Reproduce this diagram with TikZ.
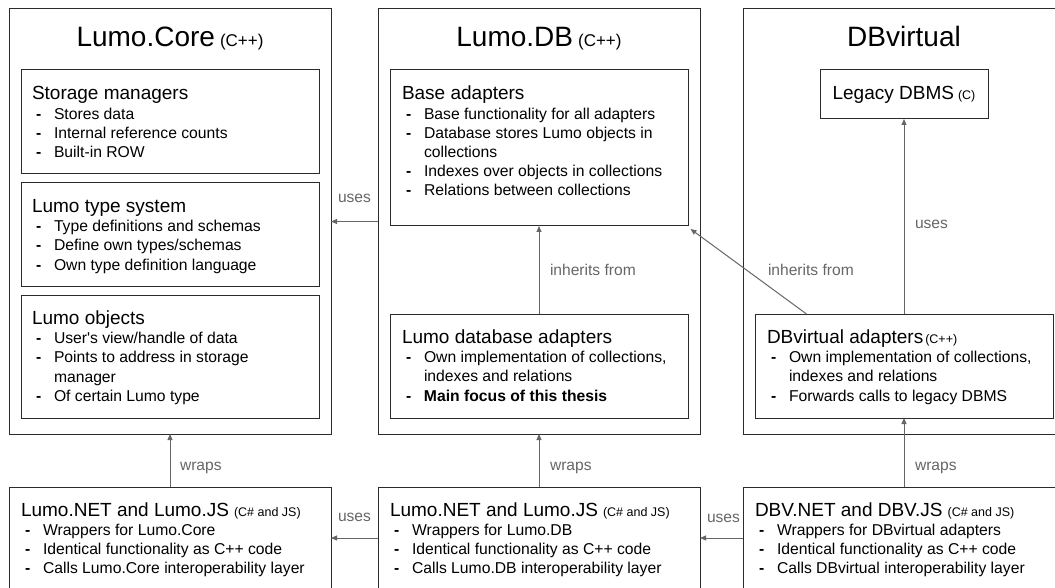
\documentclass[tikz,border=0pt]{standalone}
\usepackage{fontspec}
\setmainfont{Liberation Sans}[Ligatures=TeXOff]
\usetikzlibrary{arrows.meta,calc}
\definecolor{boxc}{HTML}{2B2B2B}
\definecolor{arrc}{HTML}{666666}
\definecolor{lblc}{HTML}{666666}
\newcommand\ttlf{\fontsize{28}{34}\selectfont}
\newcommand\tsmf{\fontsize{17}{20}\selectfont}
\newcommand\hdf{\fontsize{19}{23}\selectfont}
\newcommand\hsmf{\fontsize{12.5}{15}\selectfont}
\newcommand\btf{\fontsize{15.7}{19.2}\selectfont}
\newcommand\lbf{\fontsize{15.6}{19}\selectfont}
\newcommand\bitem[1]{\par\noindent\hangindent=22pt\hangafter=1\makebox[22pt][l]{\hspace{4pt}\textbf{-}}#1}
\newcommand\boxtext[1]{\parbox[t]{300pt}{\btf\raggedright\noindent #1}}
\tikzset{
  box/.style={draw=boxc, line width=1pt, rectangle, inner sep=0pt, outer sep=0pt, anchor=north west},
  txt/.style={inner sep=0pt, outer sep=0pt, anchor=base west, text=black},
  ttl/.style={inner sep=0pt, outer sep=0pt, anchor=base, text=black},
  lbl/.style={inner sep=0pt, outer sep=0pt, anchor=base west, text=lblc, font=\lbf},
  arr/.style={draw=arrc, line width=1pt, -{Triangle[length=6pt,width=5pt]}},
}
\begin{document}
\begin{tikzpicture}[x=1pt,y=-1pt]
\useasboundingbox (0,0) rectangle (1055,588);
\clip (0,0) rectangle (1055,588);
% outer boxes
\node[box, minimum width=322, minimum height=425] (core) at (9,9) {};
\node[box, minimum width=322, minimum height=425] (db) at (378,9) {};
\node[box, minimum width=322, minimum height=425] (dbv) at (743,9) {};
% inner boxes
\node[box, minimum width=298, minimum height=104] (sm) at (21,70) {};
\node[box, minimum width=298, minimum height=103] (ts) at (21,183) {};
\node[box, minimum width=298, minimum height=123] (lo) at (21,295) {};
\node[box, minimum width=298, minimum height=156] (base) at (390,70) {};
\node[box, minimum width=298, minimum height=104] (lda) at (390,314) {};
\node[box, minimum width=168, minimum height=49] (legacy) at (820,70) {};
\node[box, minimum width=298, minimum height=104] (dbva) at (755,314) {};
% bottom boxes
\node[box, minimum width=322, minimum height=102] (net1) at (9,487) {};
\node[box, minimum width=322, minimum height=102] (net2) at (378,487) {};
\node[box, minimum width=322, minimum height=102] (net3) at (743,487) {};
% titles
\node[ttl] (coret) at ($(core.north)+(0,38)$) {{\ttlf Lumo.Core}\hspace{5pt}{\tsmf (C++)}};
\node[ttl] (dbt) at ($(db.north)+(0,38)$) {{\ttlf Lumo.DB}\hspace{5pt}{\tsmf (C++)}};
\node[ttl] (dbvt) at ($(dbv.north)+(0,38)$) {{\ttlf DBvirtual}};
\node[ttl] (legacyt) at ($(legacy.north)+(0,30)$) {{\hdf Legacy DBMS}\hspace{4pt}{\hsmf (C)}};
% box texts
\node[txt] (smt) at ($(sm.north west)+(11,30)$) {\boxtext{{\hdf Storage managers}
  \bitem{Stores data}
  \bitem{Internal reference counts}
  \bitem{Built-in ROW}}};
\node[txt] (tst) at ($(ts.north west)+(11,29.5)$) {\boxtext{{\hdf Lumo type system}
  \bitem{Type definitions and schemas}
  \bitem{Define own types/schemas}
  \bitem{Own type definition language}}};
\node[txt] (lot) at ($(lo.north west)+(11,29.5)$) {\boxtext{{\hdf Lumo objects}
  \bitem{User's view/handle of data}
  \bitem{Points to address in storage\newline manager}
  \bitem{Of certain Lumo type}}};
\node[txt] (baset) at ($(base.north west)+(12,30)$) {\boxtext{{\hdf Base adapters}
  \bitem{Base functionality for all adapters}
  \bitem{Database stores Lumo objects in\newline collections}
  \bitem{Indexes over objects in collections}
  \bitem{Relations between collections}}};
\node[txt] (ldat) at ($(lda.north west)+(12,29.5)$) {\boxtext{{\hdf Lumo database adapters}
  \bitem{Own implementation of collections,\newline indexes and relations}
  {\bfseries\bitem{Main focus of this thesis}}}};
\node[txt] (dbvat) at ($(dbva.north west)+(12,29.5)$) {\boxtext{{\hdf DBvirtual adapters}\hspace{2pt}{\hsmf (C++)}
  \bitem{Own implementation of collections,\newline indexes and relations}
  \bitem{Forwards calls to legacy DBMS}}};
\node[txt] (net1t) at ($(net1.north west)+(12,29)$) {\boxtext{{\hdf Lumo.NET and Lumo.JS}\hspace{5pt}{\hsmf (C\# and JS)}
  \bitem{Wrappers for Lumo.Core}
  \bitem{Identical functionality as C++ code}
  \bitem{Calls Lumo.Core interoperability layer}}};
\node[txt] (net2t) at ($(net2.north west)+(12,29)$) {\boxtext{{\hdf Lumo.NET and Lumo.JS}\hspace{5pt}{\hsmf (C\# and JS)}
  \bitem{Wrappers for Lumo.DB}
  \bitem{Identical functionality as C++ code}
  \bitem{Calls Lumo.DB interoperability layer}}};
\node[txt] (net3t) at ($(net3.north west)+(12,29)$) {\boxtext{{\hdf DBV.NET and DBV.JS}\hspace{5pt}{\hsmf (C\# and JS)}
  \bitem{Wrappers for DBvirtual adapters}
  \bitem{Identical functionality as C++ code}
  \bitem{Calls DBvirtual interoperability layer}}};
% connectors
\draw[arr] (db.west) -- (core.east);
\draw[arr] (net2.west) -- (net1.east);
\draw[arr] (net3.west) -- (net2.east);
\draw[arr] (net1.north) -- (core.south);
\draw[arr] (net2.north) -- (db.south);
\draw[arr] (net3.north) -- (dbva.south);
\draw[arr] (lda.north) -- (base.south);
\draw[arr] (dbva.north) -- (legacy.south);
\draw[arr] ($(dbva.north west)+(51.5,0)$) -- ($(base.south east)+(2.5,3)$);
% connector labels
\node[lbl] (l1) at (338,203) {uses};
\node[lbl] (l2) at (338,521) {uses};
\node[lbl] (l3) at (707,522) {uses};
\node[lbl] (l4) at (180,470) {wraps};
\node[lbl] (l5) at (550,470) {wraps};
\node[lbl] (l6) at (915,470) {wraps};
\node[lbl] (l7) at (550,276) {inherits from};
\node[lbl] (l8) at (768,276) {inherits from};
\node[lbl] (l9) at (915,229) {uses};
\end{tikzpicture}
\end{document}
